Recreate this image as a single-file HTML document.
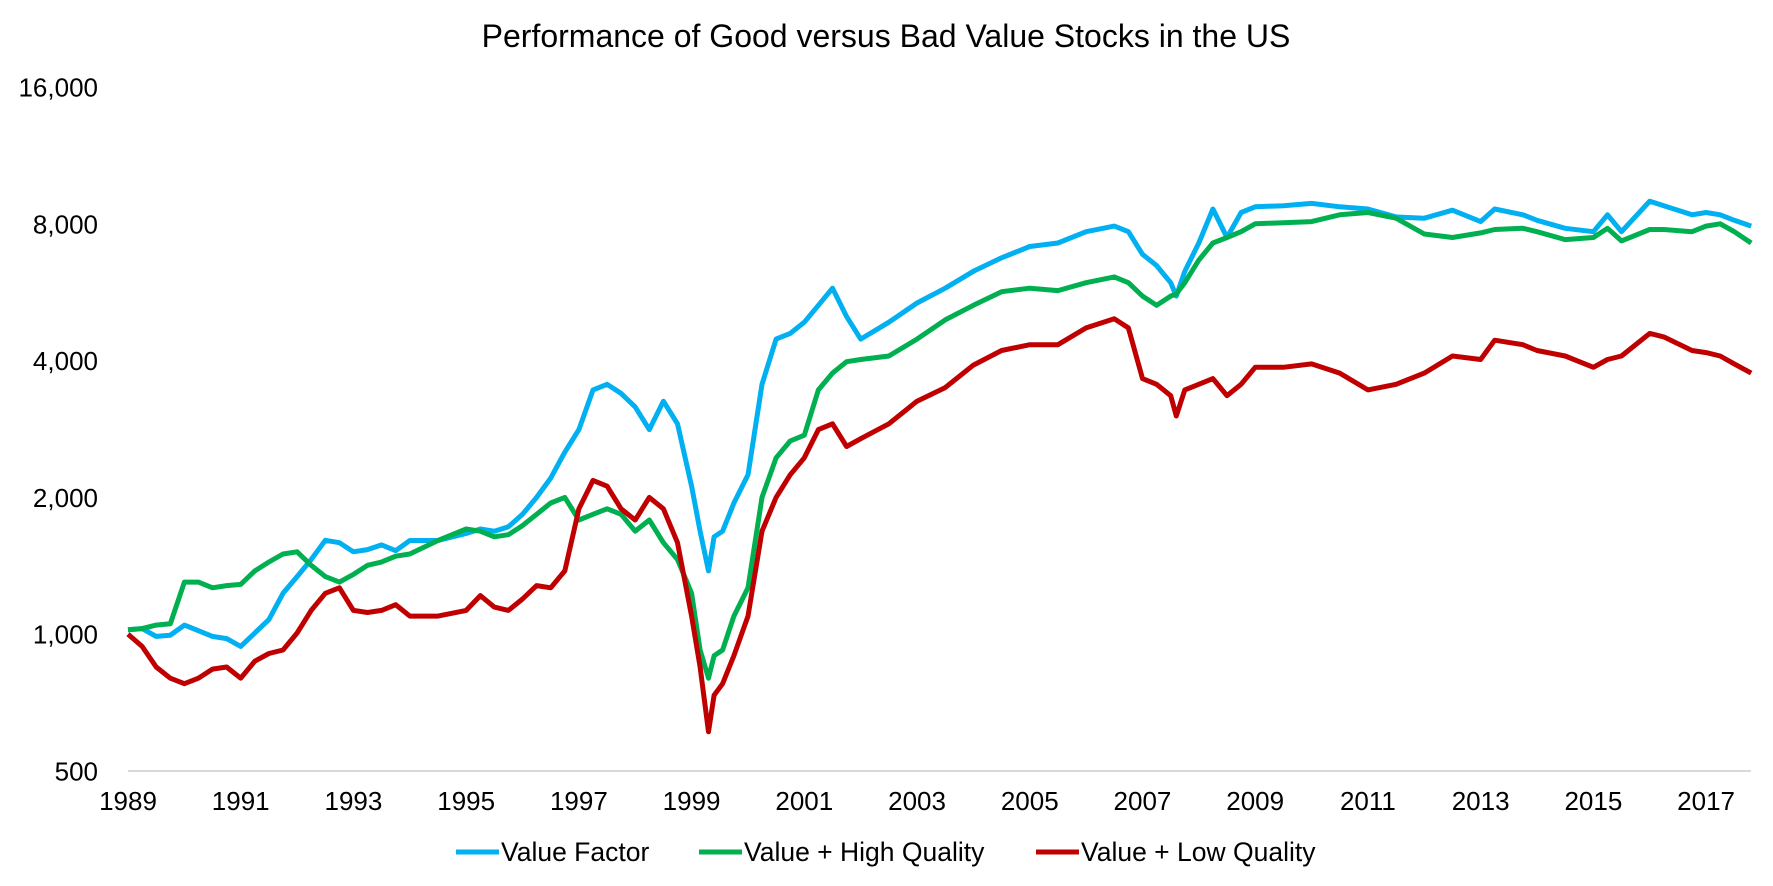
<!DOCTYPE html>
<html><head><meta charset="utf-8"><style>
html,body{margin:0;padding:0;background:#fff;}
svg{display:block;font-family:"Liberation Sans",Arial,sans-serif;}
</style></head><body>
<svg id="chart" width="1773" height="886" viewBox="0 0 1773 886" xmlns="http://www.w3.org/2000/svg">
<text x="886" y="47" text-anchor="middle" font-size="32" fill="#000">Performance of Good versus Bad Value Stocks in the US</text>
<g id="axes"></g>
<g id="series"></g>
<g>
<line x1="456" y1="852" x2="499" y2="852" stroke="#00b0f0" stroke-width="5"/>
<text x="501" y="861" font-size="26.5">Value Factor</text>
<line x1="699" y1="852" x2="742" y2="852" stroke="#00b050" stroke-width="5"/>
<text x="744" y="861" font-size="26.5">Value + High Quality</text>
<line x1="1036" y1="852" x2="1079" y2="852" stroke="#c00000" stroke-width="5"/>
<text x="1081" y="861" font-size="26.5">Value + Low Quality</text>
</g>
</svg>
<script>
const dates = [1989,1989.25,1989.5,1989.75,1990,1990.25,1990.5,1990.75,1991,1991.25,1991.5,1991.75,1992,1992.25,1992.5,1992.75,1993,1993.25,1993.5,1993.75,1994,1994.5,1995,1995.25,1995.5,1995.75,1996,1996.25,1996.5,1996.75,1997,1997.25,1997.5,1997.75,1998,1998.25,1998.5,1998.75,1999,1999.15,1999.3,1999.4,1999.55,1999.75,2000,2000.25,2000.5,2000.75,2001,2001.25,2001.5,2001.75,2002,2002.5,2003,2003.5,2004,2004.5,2005,2005.5,2006,2006.5,2006.75,2007,2007.25,2007.5,2007.6,2007.75,2008,2008.25,2008.5,2008.75,2009,2009.5,2010,2010.5,2011,2011.5,2012,2012.5,2013,2013.25,2013.75,2014,2014.5,2015,2015.25,2015.5,2016,2016.25,2016.75,2017,2017.25,2017.5,2017.8];
const valueFactor = [1023,1029,989,995,1047,1018,989,978,940,1006,1077,1230,1339,1460,1609,1590,1518,1535,1572,1527,1608,1608,1666,1704,1685,1723,1836,2000,2205,2515,2820,3448,3547,3387,3163,2820,3256,2904,2117,1685,1378,1638,1685,1944,2243,3547,4460,4590,4860,5294,5772,5000,4460,4860,5356,5772,6288,6734,7131,7258,7685,7906,7685,6854,6473,5936,5546,6288,7258,8622,7463,8471,8719,8770,8870,8719,8622,8285,8231,8570,8090,8622,8373,8143,7819,7685,8373,7685,8972,8770,8373,8471,8373,8143,7906];
const highQuality = [1023,1029,1047,1054,1302,1302,1265,1279,1287,1378,1442,1501,1518,1418,1339,1302,1354,1418,1442,1485,1501,1608,1704,1685,1638,1656,1734,1836,1944,2000,1784,1836,1888,1836,1685,1784,1590,1460,1230,923,800,897,923,1096,1265,2000,2445,2662,2741,3448,3754,3977,4023,4094,4460,4915,5294,5672,5772,5703,5936,6112,5936,5546,5294,5546,5608,5936,6656,7258,7463,7685,8001,8045,8090,8373,8471,8231,7598,7463,7641,7772,7819,7685,7383,7463,7819,7337,7772,7772,7685,7906,8001,7685,7258];
const lowQuality = [1000,940,847,800,778,800,838,847,800,872,907,923,1006,1128,1230,1265,1128,1116,1128,1161,1096,1096,1128,1216,1147,1128,1195,1279,1265,1378,1888,2180,2117,1888,1784,2000,1888,1590,1096,847,610,734,778,897,1096,1685,2000,2243,2445,2820,2904,2589,2693,2904,3256,3489,3909,4210,4335,4335,4720,4943,4720,3651,3547,3348,3021,3448,3547,3651,3348,3547,3866,3866,3933,3754,3448,3547,3754,4094,4023,4435,4335,4210,4094,3866,4023,4094,4590,4510,4210,4166,4094,3933,3754];
const yTicks = [500,1000,2000,4000,8000,16000];
const yTickLabels = ["500","1,000","2,000","4,000","8,000","16,000"];
const xTicks = [1989,1991,1993,1995,1997,1999,2001,2003,2005,2007,2009,2011,2013,2015,2017];

const NS = "http://www.w3.org/2000/svg";
function xs(t){ return 128 + (t - 1989) * 56.36; }
function ys(v){ return 771 - 136.8 * Math.log2(v / 500); }
const axes = document.getElementById('axes');
const grid = document.createElementNS(NS,'line');


grid.setAttribute('x1',128); grid.setAttribute('x2',1751);
grid.setAttribute('y1',ys(500)); grid.setAttribute('y2',ys(500));
grid.setAttribute('stroke','#d9d9d9'); grid.setAttribute('stroke-width','2');
axes.appendChild(grid);
yTicks.forEach((v,i)=>{
  const t = document.createElementNS(NS,'text');
  
  
  t.setAttribute('x',98); t.setAttribute('y',ys(v)+9.5);
  t.setAttribute('text-anchor','end'); t.setAttribute('font-size','26');
  t.textContent = yTickLabels[i];
  axes.appendChild(t);
});
xTicks.forEach(yr=>{
  const t = document.createElementNS(NS,'text');
  
  
  t.setAttribute('x',xs(yr)); t.setAttribute('y',810);
  t.setAttribute('text-anchor','middle'); t.setAttribute('font-size','26');
  t.textContent = String(yr);
  axes.appendChild(t);
});
const sg = document.getElementById('series');
[[valueFactor,'#00b0f0','line-value-factor'],[highQuality,'#00b050','line-value-high-quality'],[lowQuality,'#c00000','line-value-low-quality']].forEach(s=>{
  const p = document.createElementNS(NS,'path');
  
  
  p.setAttribute('d', s[0].map((v,i)=>(i?'L':'M')+xs(dates[i]).toFixed(1)+','+ys(v).toFixed(1)).join(''));
  p.setAttribute('fill','none'); p.setAttribute('stroke',s[1]);
  p.setAttribute('stroke-width','5'); p.setAttribute('stroke-linejoin','round');
  sg.appendChild(p);
});
</script>
</body></html>
